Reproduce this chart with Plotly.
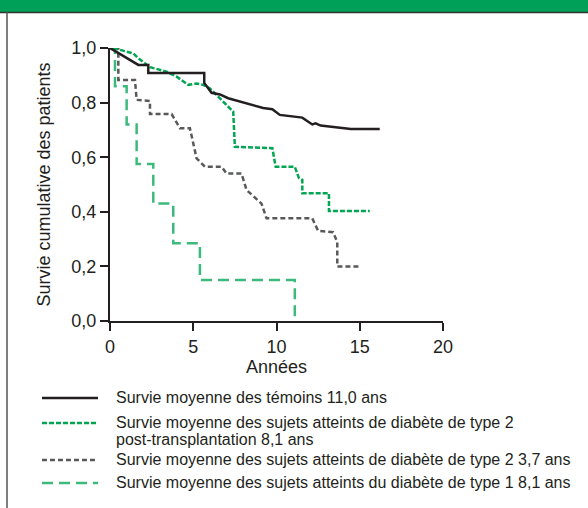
import plotly.graph_objects as go

# ---- data ----
ctrl_t = [0.0, 1.7, 2.3, 2.3, 5.66, 5.66, 6.1, 6.6, 7.1, 8.0, 9.2, 9.75, 10.2, 11.55, 12.15, 12.35, 12.65, 14.46, 16.2]
ctrl_s = [1.0, 0.938, 0.938, 0.908, 0.908, 0.872, 0.836, 0.83, 0.816, 0.80, 0.78, 0.776, 0.755, 0.745, 0.72, 0.724, 0.716, 0.703, 0.703]

ptdm_t = [0.2, 1.4, 1.7, 2.4, 3.4, 4.0, 4.7, 5.2, 5.6, 6.0, 7.3, 7.4, 7.5, 9.75, 9.95, 11.1, 11.35, 11.55, 11.55, 13.15, 13.15, 15.6]
ptdm_s = [1.0, 0.98, 0.963, 0.93, 0.913, 0.895, 0.865, 0.87, 0.865, 0.852, 0.773, 0.767, 0.638, 0.633, 0.565, 0.565, 0.523, 0.517, 0.468, 0.468, 0.403, 0.403]

t2_t = [0.3, 0.5, 0.5, 1.5, 1.6, 2.4, 2.4, 3.7, 4.2, 4.8, 5.2, 5.7, 6.7, 7.0, 7.9, 8.2, 9.1, 9.4, 12.15, 12.5, 13.4, 13.65, 13.65, 15.1]
t2_s = [1.0, 1.0, 0.883, 0.883, 0.81, 0.806, 0.758, 0.758, 0.706, 0.706, 0.596, 0.565, 0.565, 0.54, 0.54, 0.48, 0.43, 0.376, 0.376, 0.33, 0.325, 0.29, 0.2, 0.2]

t1_t = [0.0, 0.3, 1.0, 1.6, 2.6, 3.8, 5.4, 11.1]
t1_s = [1.0, 0.86, 0.72, 0.575, 0.43, 0.285, 0.15, 0.0]

x_ticks = [0, 5, 10, 15, 20]
y_ticks = [0.0, 0.2, 0.4, 0.6, 0.8, 1.0]

legend_labels = [
    ["Survie moyenne des témoins 11,0 ans"],
    ["Survie moyenne des sujets atteints de diabète de type 2", "post-transplantation 8,1 ans"],
    ["Survie moyenne des sujets atteints de diabète de type 2 3,7 ans"],
    ["Survie moyenne des sujets atteints du diabète de type 1 8,1 ans"],
]

BLACK = "#231f20"
GREEN = "#00a651"
GRAY = "#58595b"
LGREEN = "#3cba7c"

styles = [
    dict(color=BLACK, width=2.5, dash="solid"),
    dict(color=GREEN, width=2.5, dash="5px,2px"),
    dict(color=GRAY, width=2.5, dash="5px,3px"),
    dict(color=LGREEN, width=2.5, dash="11px,6px"),
]

FONT = "Liberation Sans"
W, H = 588, 508
ML, MR, MT, MB = 110, 145, 48, 187

fig = go.Figure()
fig.add_trace(go.Scatter(x=t1_t, y=t1_s, mode="lines", line=styles[3], line_shape="hv", showlegend=False))
fig.add_trace(go.Scatter(x=t2_t, y=t2_s, mode="lines", line=styles[2], showlegend=False))
fig.add_trace(go.Scatter(x=ptdm_t, y=ptdm_s, mode="lines", line=styles[1], showlegend=False))
fig.add_trace(go.Scatter(x=ctrl_t, y=ctrl_s, mode="lines", line=styles[0], showlegend=False))

pw = W - ML - MR
ph = H - MT - MB


def px_x(p):
    return (p - ML) / pw


def px_y(p):
    return (H - MB - p) / ph


shapes = []
annotations = []
# frame: green band at top, dark rule, left border
shapes.append(dict(type="rect", xref="paper", yref="paper", x0=px_x(-5), x1=px_x(W + 5),
                   y0=px_y(12), y1=px_y(-5), fillcolor="#00a058", line=dict(width=0), layer="below"))
shapes.append(dict(type="line", xref="paper", yref="paper", x0=px_x(0), x1=px_x(W + 5),
                   y0=px_y(12.5), y1=px_y(12.5), line=dict(color="#333333", width=1.5)))
shapes.append(dict(type="line", xref="paper", yref="paper", x0=px_x(7), x1=px_x(7),
                   y0=px_y(12), y1=px_y(H + 5), line=dict(color="#555555", width=1.5)))

# legend (manual)
leg_y = [398, 423, 460, 483]
for lines, st, yy in zip(legend_labels, styles, leg_y):
    shapes.append(dict(type="line", xref="paper", yref="paper", x0=px_x(42), x1=px_x(98),
                       y0=px_y(yy), y1=px_y(yy), line=st))
    for k, txt in enumerate(lines):
        annotations.append(dict(xref="paper", yref="paper", x=px_x(114), y=px_y(yy - 1 + 17 * k),
                                xanchor="left", yanchor="middle", text=txt, showarrow=False,
                                align="left", font=dict(size=16, color="#231f20", family=FONT)))

fig.update_layout(
    width=W, height=H,
    margin=dict(l=ML, r=MR, t=MT, b=MB),
    paper_bgcolor="white", plot_bgcolor="white",
    separators=", ",
    font=dict(family=FONT, size=18, color="#231f20"),
    shapes=shapes, annotations=annotations,
    xaxis=dict(range=[0, 20], tickvals=x_ticks, showgrid=False, zeroline=False,
               showline=True, linecolor=BLACK, linewidth=2, ticks="outside", ticklen=8,
               tickwidth=2, tickcolor=BLACK, tickfont=dict(size=18),
               title=dict(text="Années", font=dict(size=18), standoff=0)),
    yaxis=dict(range=[0, 1.0], tickvals=y_ticks, tickformat=".1f", showgrid=False, zeroline=False,
               showline=True, linecolor=BLACK, linewidth=2, ticks="outside", ticklen=8,
               tickwidth=2, tickcolor=BLACK, tickfont=dict(size=18),
               title=dict(text="Survie cumulative des patients", font=dict(size=18), standoff=16)),
)

fig.write_html("out.html", config={"displayModeBar": False},
               post_script="document.body.style.margin='0';document.body.style.padding='0';")
